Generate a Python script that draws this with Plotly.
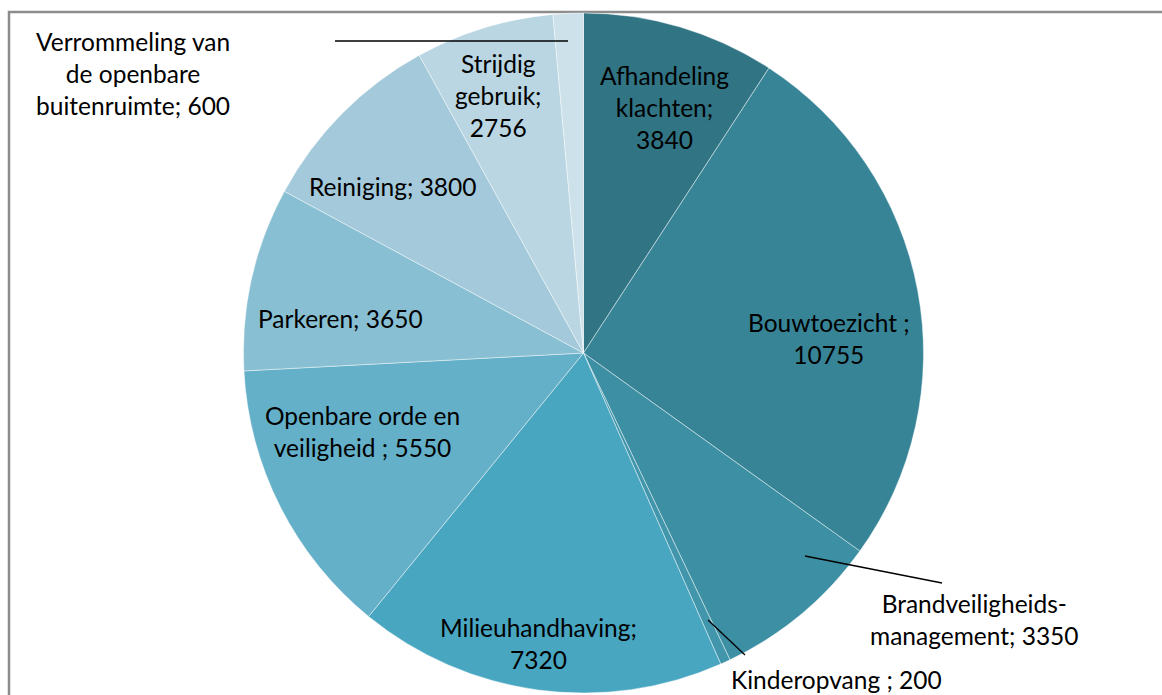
import plotly.graph_objects as go

W, H = 1162, 695

categories = ["Afhandeling klachten", "Bouwtoezicht", "Brandveiligheidsmanagement",
              "Kinderopvang", "Milieuhandhaving", "Openbare orde en veiligheid",
              "Parkeren", "Reiniging", "Strijdig gebruik",
              "Verrommeling van de openbare buitenruimte"]
values = [3840, 10755, 3350, 200, 7320, 5550, 3650, 3800, 2756, 600]
label_texts = ["Afhandeling<br>klachten;<br>{v}", "Bouwtoezicht ;<br>{v}",
               "Brandveiligheids-<br>management; {v}", "Kinderopvang ; {v}",
               "Milieuhandhaving;<br>{v}", "Openbare orde en<br>veiligheid ; {v}",
               "Parkeren; {v}", "Reiniging; {v}", "Strijdig<br>gebruik;<br>{v}",
               "Verrommeling van<br>de openbare<br>buitenruimte; {v}"]
colors = ["#317585", "#378497", "#3d8fa4", "#4296ab", "#48a6c0",
          "#64b0c8", "#88bfd2", "#a3c9da", "#b9d6e2", "#cde1ea"]

# label positions in pixels (layout only)
label_pos = [(664, 108), (829, 338), (975, 619), (836, 679), (538, 643),
             (362, 432), (340, 318), (392, 186), (498, 95), (133, 74)]
leaders = [((805, 556), (942, 583)), ((708, 620), (745, 655)), ((335, 41), (568, 41))]


def px(x, y):
    return x / W, 1 - y / H


cx, cy, r = 583.5, 353, 340
fig = go.Figure(go.Pie(
    labels=categories, values=values, sort=False, direction="clockwise",
    rotation=0, textinfo="none", hoverinfo="label+value",
    marker=dict(colors=colors, line=dict(color="rgba(255,255,255,0.55)", width=0.8)),
    domain=dict(x=[(cx - r) / W, (cx + r) / W], y=[1 - (cy + r) / H, 1 - (cy - r) / H]),
    showlegend=False,
))

font = "Lato, Calibri, Carlito, sans-serif"
anns = []
for t, v, (x, y) in zip(label_texts, values, label_pos):
    ax, ay = px(x, y)
    anns.append(dict(x=ax, y=ay, xref="paper", yref="paper", text=t.format(v=v),
                     showarrow=False, xanchor="center", yanchor="middle", align="center",
                     font=dict(family=font, size=24.5, color="#000000")))

shapes = []
for (p0, p1) in leaders:
    x0, y0 = px(*p0)
    x1, y1 = px(*p1)
    shapes.append(dict(type="line", xref="paper", yref="paper", x0=x0, y0=y0, x1=x1, y1=y1,
                       line=dict(color="#000000", width=1.3)))
fx0, fy1 = px(9, 12)
shapes.append(dict(type="rect", xref="paper", yref="paper", x0=fx0, y0=-0.2, x1=1.2, y1=fy1,
                   line=dict(color="#8c8c8c", width=2.5), fillcolor="rgba(0,0,0,0)", layer="below"))

fig.update_layout(width=W, height=H, margin=dict(l=0, r=0, t=0, b=0),
                  paper_bgcolor="white", plot_bgcolor="white",
                  annotations=anns, shapes=shapes)
fig.write_html("out.html")
